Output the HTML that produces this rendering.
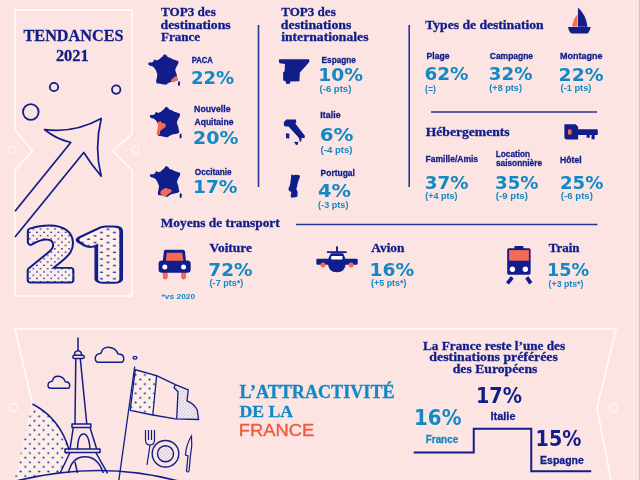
<!DOCTYPE html>
<html><head><meta charset="utf-8"><style>
html,body{margin:0;padding:0;background:#fce4e3;}
svg{display:block}
</style></head><body>
<svg width="640" height="480" viewBox="0 0 640 480">
<rect width="640" height="480" fill="#fce4e3"/>
<defs>
<pattern id="dots" patternUnits="userSpaceOnUse" width="9.2" height="9.2" x="0" y="0">
<rect width="9.2" height="9.2" fill="#fdeeea"/>
<circle cx="2.3" cy="2.3" r="1.0" fill="#101d8a"/><circle cx="6.9" cy="6.9" r="1.0" fill="#101d8a"/>
</pattern>
<pattern id="dots21" patternUnits="userSpaceOnUse" width="6.6" height="6.6" x="0" y="0">
<rect width="6.6" height="6.6" fill="#fdeeea"/>
<circle cx="1.65" cy="1.65" r="0.8" fill="#101d8a"/><circle cx="4.95" cy="4.95" r="0.8" fill="#101d8a"/>
</pattern>
<pattern id="fdots" patternUnits="userSpaceOnUse" width="3.2" height="3.2">
<rect width="3.2" height="3.2" fill="#fcefef"/>
<circle cx="0.8" cy="0.8" r="0.42" fill="#3a46a0"/><circle cx="2.4" cy="2.4" r="0.42" fill="#3a46a0"/>
</pattern>
</defs>
<rect x="633.5" y="0" width="1" height="480" fill="#fff4ec"/>
<rect x="639" y="0" width="1" height="480" fill="#f6b8ad"/>
<path d="M15,10 H132 V134 L113,151 L132,170 V296 H15 V170 L32.5,151 L15,130 Z" fill="none" stroke="#fff8f5" stroke-width="1.9"/>
<circle cx="12.5" cy="150" r="3.6" fill="none" stroke="#fff8f5" stroke-width="1.1"/>
<circle cx="135.3" cy="150" r="3.6" fill="none" stroke="#fff8f5" stroke-width="1.1"/>
<path d="M17.5,480 L32.4,404 L15,329 H616 L597,408 L611,480" fill="none" stroke="#fff8f5" stroke-width="1.9"/>
<circle cx="13" cy="407.5" r="4" fill="none" stroke="#fff8f5" stroke-width="1.1"/>
<circle cx="613" cy="408" r="4" fill="none" stroke="#fff8f5" stroke-width="1.1"/>
<line x1="258.5" y1="25" x2="258.5" y2="187" stroke="#2a3598" stroke-width="1.6"/>
<line x1="409.2" y1="25" x2="409.2" y2="187" stroke="#2a3598" stroke-width="1.6"/>
<line x1="431" y1="112" x2="597" y2="112" stroke="#2a3598" stroke-width="1.6"/>
<line x1="296" y1="224.5" x2="597.5" y2="224.5" stroke="#2a3598" stroke-width="1.6"/>
<circle cx="54" cy="87" r="4.2" fill="none" stroke="#101d8a" stroke-width="1.8"/>
<circle cx="116.2" cy="89.6" r="4.2" fill="none" stroke="#101d8a" stroke-width="1.8"/>
<circle cx="30.8" cy="112" r="7.8" fill="none" stroke="#101d8a" stroke-width="1.8"/>
<path d="M15,211.25 L70.75,142.5 Q56,139 44.5,129.5 Q74,133.5 101.25,118.5 Q94,148 101.25,176.25 Q91,164 83.75,152.5 L15,237" fill="none" stroke="#101d8a" stroke-width="1.7" stroke-linejoin="round"/>
<g transform="translate(144,50) scale(0.08333333333333333)">
<polygon points="245,50 270,62 285,85 320,95 345,110 375,120 415,135 410,165 390,200 375,235 380,260 390,285 395,310 400,340 405,360 385,372 360,378 330,382 300,392 280,405 265,418 235,415 195,405 150,398 145,370 155,330 160,290 145,250 125,215 100,195 65,185 50,170 55,150 90,150 110,140 125,110 150,125 180,115 200,95 220,80 235,60" fill="#101d8a"/>
<polygon points="330,355 350,335 375,315 395,318 400,340 405,360 385,372 360,378 330,382 322,370" fill="#f76a52"/>
<ellipse cx="420" cy="403" rx="13" ry="30" fill="#101d8a"/>
</g>
<g transform="translate(145.6,102.5) scale(0.08333333333333333)">
<polygon points="245,50 270,62 285,85 320,95 345,110 375,120 415,135 410,165 390,200 375,235 380,260 390,285 395,310 400,340 405,360 385,372 360,378 330,382 300,392 280,405 265,418 235,415 195,405 150,398 145,370 155,330 160,290 145,250 125,215 100,195 65,185 50,170 55,150 90,150 110,140 125,110 150,125 180,115 200,95 220,80 235,60" fill="#101d8a"/>
<polygon points="155.8,231 180.8,221 195.8,246 230.8,251 245.8,271 235.8,296 210.8,316 180.8,336 170.8,356 175.8,384 140.8,391 130.8,376 140.8,326 150.8,276 140.8,246" fill="#f76a52"/>
<ellipse cx="420" cy="403" rx="13" ry="30" fill="#101d8a"/>
</g>
<g transform="translate(145.7,161.8) scale(0.08333333333333333)">
<polygon points="245,50 270,62 285,85 320,95 345,110 375,120 415,135 410,165 390,200 375,235 380,260 390,285 395,310 400,340 405,360 385,372 360,378 330,382 300,392 280,405 265,418 235,415 195,405 150,398 145,370 155,330 160,290 145,250 125,215 100,195 65,185 50,170 55,150 90,150 110,140 125,110 150,125 180,115 200,95 220,80 235,60" fill="#101d8a"/>
<polygon points="174.6,365.4 189.6,340.4 219.6,322.4 244.6,310.4 269.6,325.4 299.6,330.4 314.6,352.4 289.6,375.4 264.6,388.4 249.6,410.4 219.6,412.4 184.6,400.4" fill="#f76a52"/>
<ellipse cx="420" cy="403" rx="13" ry="30" fill="#101d8a"/>
</g>
<polygon points="278.96,59.31 309.04,59.31 309.40,61.79 305.15,66.74 300.90,71.35 299.84,72.41 299.49,81.26 290.28,81.61 289.93,83.73 286.39,84.09 285.68,81.61 283.20,80.19 283.06,72.41 284.62,71.35 284.97,63.91 279.66,63.20 278.96,61.79" fill="#101d8a"/>
<polygon points="283.86,122.26 286.26,119.41 295.87,119.41 296.39,122.26 295.27,123.61 305.03,135.92 304.28,138.17 301.65,137.87 301.27,141.18 299.62,141.63 299.17,138.62 298.12,137.12 288.51,126.39 285.66,126.61 283.86,125.41" fill="#101d8a"/>
<polygon points="285.88,133.37 289.41,133.67 289.26,138.40 286.11,138.17" fill="#101d8a"/>
<polygon points="293.92,141.78 298.42,141.93 297.37,145.16 295.87,144.63" fill="#101d8a"/>
<polygon points="291.33,174.33 293.33,175.33 295.33,174.67 299.33,175.00 300.00,176.67 299.00,179.33 297.67,183.33 297.00,186.67 296.33,189.00 297.67,192.00 297.33,196.67 295.33,197.33 291.33,197.67 290.67,196.00 291.33,192.00 289.00,190.67 288.33,188.67 289.67,186.00 290.33,182.67 291.00,178.00" fill="#101d8a"/>
<g transform="translate(562,4) scale(0.0708215297450425)">
<path d="M225,50 Q340,150 360,322 L225,322 Z" fill="#101d8a"/>
<path d="M218,145 Q160,215 142,318 L218,318 Z" fill="#f76a52"/>
<path d="M85,325 L405,325 Q395,380 370,410 Q360,418 340,418 L150,418 Q125,418 110,395 Q92,365 85,325 Z" fill="#101d8a"/>
</g>
<g transform="translate(560,118) scale(0.0625)">
<path d="M70,100 L250,100 L290,140 L290,180 L590,180 Q605,180 605,200 L605,255 Q605,270 590,270 L555,270 L555,340 L505,340 L505,270 L475,270 L475,315 L425,315 L425,270 L290,270 L290,345 L110,345 Q70,345 70,305 Z" fill="#101d8a"/>
<rect x="128" y="185" width="57" height="80" fill="#f76a52"/>
</g>
<g transform="translate(154,244) scale(0.08333333333333333)">
<rect x="105" y="330" width="60" height="95" rx="28" fill="#f76a52"/>
<rect x="325" y="330" width="60" height="95" rx="28" fill="#f76a52"/>
<path d="M140,68 L350,68 Q370,68 372,90 L385,215 L105,215 L118,90 Q120,68 140,68 Z" fill="#101d8a"/>
<rect x="55" y="198" width="385" height="148" rx="40" fill="#101d8a"/>
<path d="M152,105 L338,105 L352,200 L143,200 Z" fill="#f76a52"/>
<circle cx="130" cy="275" r="30" fill="#fff"/><circle cx="355" cy="275" r="30" fill="#fff"/>
</g>
<g transform="translate(312,242) scale(0.078125)">
<rect x="308" y="55" width="24" height="80" fill="#101d8a"/>
<rect x="190" y="118" width="255" height="24" rx="6" fill="#101d8a"/>
<rect x="55" y="215" width="530" height="75" rx="14" fill="#101d8a"/>
<path d="M245,145 L395,145 Q430,190 432,265 Q430,385 318,388 Q205,385 204,265 Q206,190 245,145 Z" fill="#101d8a"/>
<rect x="245" y="180" width="145" height="45" rx="6" fill="#fff"/>
<circle cx="140" cy="295" r="32" fill="#f76a52"/><circle cx="500" cy="295" r="32" fill="#f76a52"/>
</g>
<g transform="translate(500,242) scale(0.09569377990430622)">
<rect x="150" y="42" width="95" height="40" rx="8" fill="#101d8a"/>
<rect x="75" y="65" width="245" height="277" rx="18" fill="#101d8a"/>
<rect x="95" y="85" width="207" height="110" fill="#f76a52"/>
<circle cx="130" cy="285" r="28" fill="#fff"/><circle cx="265" cy="285" r="28" fill="#fff"/>
<line x1="128" y1="370" x2="78" y2="432" stroke="#101d8a" stroke-width="40"/>
<line x1="280" y1="370" x2="322" y2="432" stroke="#101d8a" stroke-width="40"/>
</g>
<path d="M413.75,452.5 H473.75 V428.75 H531.25 V471.25 H591.2" fill="none" stroke="#101d8a" stroke-width="2"/>
<text transform="translate(24.42,280.10) scale(1.085,1)" font-family="'DejaVu Sans', sans-serif" font-weight="bold" font-size="69.80" fill="none" stroke="#101d8a" stroke-width="7.00" stroke-linejoin="round">2</text><text transform="translate(24.42,280.10) scale(1.085,1)" font-family="'DejaVu Sans', sans-serif" font-weight="bold" font-size="69.80" fill="url(#dots21)" stroke="url(#dots21)" stroke-width="3.20" stroke-linejoin="round">2</text>
<text transform="translate(65.88,280.40) scale(1.962,1)" font-family="NanumGothic, 'Liberation Sans', sans-serif" font-weight="bold" font-size="66.97" fill="none" stroke="#101d8a" stroke-width="7.40" stroke-linejoin="round">1</text><text transform="translate(65.88,280.40) scale(1.962,1)" font-family="NanumGothic, 'Liberation Sans', sans-serif" font-weight="bold" font-size="66.97" fill="url(#dots21)" stroke="url(#dots21)" stroke-width="3.60" stroke-linejoin="round">1</text>
<clipPath id="above"><path d="M0,300 H220 V481 L178,481 Q100,460 18,481 L0,481 Z"/></clipPath>
<path d="M32.4,404 Q60,418 69.2,450.3 L60,476 L14,481 Z" fill="url(#dots)" clip-path="url(#above)"/>
<path d="M32.4,404 Q60,418 69.2,450.3" fill="none" stroke="#101d8a" stroke-width="1.5"/>
<path d="M16,481 Q100,460 178,481" fill="none" stroke="#101d8a" stroke-width="1.7"/>
<path d="M78,337.5 V351 M74.6,355 A3.5,3.5 0 1 1 81.4,355 M74.5,355.2 H82.5 A1.7,1.7 0 0 1 82.5,358.6 H74.5 A1.7,1.7 0 0 1 74.5,355.2 Z M75.8,358.7 L75,424 M80.3,358.7 L86.8,424 M72,424 H90.8 V427.5 H72 Z M73.3,427.5 L70,449 M90,427.5 L96.7,449 M77.5,449 Q78,434 83.5,434 Q89,434 90,449 M65,449 H100 V452.5 H65 Z M70,452.5 L60,473.3 M95.8,452.5 L107.5,473.3 M68.3,473 Q72,456.7 85,456.7 Q98,456.7 103.3,473 M75,462 L77.5,473" fill="none" stroke="#101d8a" stroke-width="1.5" stroke-linejoin="round"/>
<path d="M50.60,388.30 H67.96 Q69.70,388.30 69.70,385.30 Q69.70,381.70 65.36,381.70 Q63.19,376.30 57.77,376.30 Q53.42,376.30 52.34,381.10 Q48.00,381.70 48.00,385.30 Q48.00,388.30 50.60,388.30 Z" fill="none" stroke="#101d8a" stroke-width="1.4"/>
<path d="M98.67,362.30 H121.47 Q123.75,362.30 123.75,358.55 Q123.75,354.05 118.05,354.05 Q115.20,347.30 108.08,347.30 Q102.38,347.30 100.95,353.30 Q95.25,354.05 95.25,358.55 Q95.25,362.30 98.67,362.30 Z" fill="none" stroke="#101d8a" stroke-width="1.4"/>
<ellipse cx="135" cy="357.8" rx="2" ry="1.4" fill="none" stroke="#101d8a" stroke-width="1.2"/>
<path d="M135.3,369.75 L156.6,375.6 L152.8,415 L130.2,410.4 Z" fill="url(#dots)"/>
<path d="M175.4,384.6 L188.3,389.8 L187,400.8 Q196,405 197.4,411 L198.6,419.5 L176.7,418.8 L178,391.7 L174.1,387.8 Z" fill="url(#fdots)"/>
<path d="M135.3,369.75 L156.6,375.6 L175.4,384.6 L188.3,389.8 L187,400.8 Q196,405 197.4,411 L198.6,419.5 L175.4,418.8 L152.8,415 L130.2,410.4 Z M156.6,375.6 L152.8,415 M175.4,384.6 L174.1,387.8 L178,391.7 L176.7,418.8" fill="none" stroke="#101d8a" stroke-width="1.3" stroke-linejoin="round"/>
<path d="M134.7,366.5 L118.75,481" fill="none" stroke="#101d8a" stroke-width="1.3"/>
<path d="M145.5,430 V440 Q145.5,445 150,445 Q154.5,445 154.5,440 V430 M148.5,430 V440 M151.5,430 V440 M150,445 L147,465" fill="none" stroke="#101d8a" stroke-width="1.2"/>
<circle cx="165.5" cy="453.75" r="13.3" fill="none" stroke="#101d8a" stroke-width="1.4"/>
<circle cx="165.5" cy="453.75" r="8" fill="url(#fdots)" stroke="#101d8a" stroke-width="1.4"/>
<path d="M191.5,436 Q186,445 185.5,455 L188,456 L186.5,471 Q187.5,473 189,471 L190.5,455 Q192.5,446 191.5,436 Z" fill="none" stroke="#101d8a" stroke-width="1.2"/>
<text transform="translate(23.51,41.00) scale(0.983,1)" font-size="16.50" font-weight="bold" font-family='"Liberation Serif", serif' fill="#101d8a" stroke="#101d8a" stroke-width="0.300">TENDANCES</text>
<text transform="translate(55.89,60.50) scale(1.024,1)" font-size="16.00" font-weight="bold" font-family='"Liberation Serif", serif' fill="#101d8a" stroke="#101d8a" stroke-width="0.300">2021</text>
<text transform="translate(160.95,16.25) scale(1.042,1)" font-size="12.60" font-weight="bold" font-family='"Liberation Serif", serif' fill="#101d8a" stroke="#101d8a" stroke-width="0.300">TOP3 des</text>
<text transform="translate(160.60,28.60) scale(1.090,1)" font-size="12.60" font-weight="bold" font-family='"Liberation Serif", serif' fill="#101d8a" stroke="#101d8a" stroke-width="0.300">destinations</text>
<text transform="translate(160.95,41.25) scale(1.038,1)" font-size="12.60" font-weight="bold" font-family='"Liberation Serif", serif' fill="#101d8a" stroke="#101d8a" stroke-width="0.300">France</text>
<text transform="translate(281.20,16.10) scale(1.037,1)" font-size="12.60" font-weight="bold" font-family='"Liberation Serif", serif' fill="#101d8a" stroke="#101d8a" stroke-width="0.300">TOP3 des</text>
<text transform="translate(280.85,28.90) scale(1.096,1)" font-size="12.60" font-weight="bold" font-family='"Liberation Serif", serif' fill="#101d8a" stroke="#101d8a" stroke-width="0.300">destinations</text>
<text transform="translate(281.13,41.40) scale(1.086,1)" font-size="12.60" font-weight="bold" font-family='"Liberation Serif", serif' fill="#101d8a" stroke="#101d8a" stroke-width="0.300">internationales</text>
<text transform="translate(425.20,29.40) scale(1.081,1)" font-size="12.60" font-weight="bold" font-family='"Liberation Serif", serif' fill="#101d8a" stroke="#101d8a" stroke-width="0.300">Types de destination</text>
<text transform="translate(425.70,135.75) scale(1.081,1)" font-size="12.60" font-weight="bold" font-family='"Liberation Serif", serif' fill="#101d8a" stroke="#101d8a" stroke-width="0.300">Hébergements</text>
<text transform="translate(160.70,227.00) scale(1.064,1)" font-size="12.60" font-weight="bold" font-family='"Liberation Serif", serif' fill="#101d8a" stroke="#101d8a" stroke-width="0.300">Moyens de transport</text>
<text transform="translate(209.52,252.00) scale(1.089,1)" font-size="12.30" font-weight="bold" font-family='"Liberation Serif", serif' fill="#101d8a" stroke="#101d8a" stroke-width="0.300">Voiture</text>
<text transform="translate(371.33,252.00) scale(1.086,1)" font-size="12.30" font-weight="bold" font-family='"Liberation Serif", serif' fill="#101d8a" stroke="#101d8a" stroke-width="0.300">Avion</text>
<text transform="translate(548.71,252.00) scale(1.056,1)" font-size="12.30" font-weight="bold" font-family='"Liberation Serif", serif' fill="#101d8a" stroke="#101d8a" stroke-width="0.300">Train</text>
<text transform="translate(239.48,398.20) scale(1.019,1)" font-size="17.80" font-weight="bold" font-family='"Liberation Serif", serif' fill="#1288c4" stroke="#1288c4" stroke-width="0.300">L’ATTRACTIVITÉ</text>
<text transform="translate(239.49,416.70) scale(1.027,1)" font-size="17.20" font-weight="bold" font-family='"Liberation Serif", serif' fill="#1288c4" stroke="#1288c4" stroke-width="0.300">DE LA</text>
<text transform="translate(423.05,349.50) scale(1.032,1)" font-size="12.80" font-weight="bold" font-family='"Liberation Serif", serif' fill="#101d8a" stroke="#101d8a" stroke-width="0.300">La France reste l’une des</text>
<text transform="translate(429.35,361.00) scale(1.080,1)" font-size="12.80" font-weight="bold" font-family='"Liberation Serif", serif' fill="#101d8a" stroke="#101d8a" stroke-width="0.300">destinations préférées</text>
<text transform="translate(452.70,372.90) scale(1.072,1)" font-size="12.80" font-weight="bold" font-family='"Liberation Serif", serif' fill="#101d8a" stroke="#101d8a" stroke-width="0.300">des Européens</text>
<text transform="translate(238.71,436.00) scale(1.080,1)" font-size="17.00" font-weight="normal" font-family='"Liberation Sans", sans-serif' fill="#f05a3e" stroke="#f05a3e" stroke-width="0.350">FRANCE</text>
<text transform="translate(191.65,63.00) scale(0.829,1)" font-size="9.30" font-weight="bold" font-family='"Liberation Sans", sans-serif' fill="#101d8a" stroke="#101d8a" stroke-width="0.300">PACA</text>
<text transform="translate(194.08,112.20) scale(0.943,1)" font-size="9.30" font-weight="bold" font-family='"Liberation Sans", sans-serif' fill="#101d8a" stroke="#101d8a" stroke-width="0.300">Nouvelle</text>
<text transform="translate(194.48,124.50) scale(0.921,1)" font-size="9.30" font-weight="bold" font-family='"Liberation Sans", sans-serif' fill="#101d8a" stroke="#101d8a" stroke-width="0.300">Aquitaine</text>
<text transform="translate(194.82,174.70) scale(0.881,1)" font-size="9.30" font-weight="bold" font-family='"Liberation Sans", sans-serif' fill="#101d8a" stroke="#101d8a" stroke-width="0.300">Occitanie</text>
<text transform="translate(321.62,62.70) scale(0.885,1)" font-size="9.30" font-weight="bold" font-family='"Liberation Sans", sans-serif' fill="#101d8a" stroke="#101d8a" stroke-width="0.300">Espagne</text>
<text transform="translate(320.37,118.40) scale(0.956,1)" font-size="9.30" font-weight="bold" font-family='"Liberation Sans", sans-serif' fill="#101d8a" stroke="#101d8a" stroke-width="0.300">Italie</text>
<text transform="translate(320.60,176.00) scale(0.910,1)" font-size="9.30" font-weight="bold" font-family='"Liberation Sans", sans-serif' fill="#101d8a" stroke="#101d8a" stroke-width="0.300">Portugal</text>
<text transform="translate(426.59,59.20) scale(0.928,1)" font-size="9.30" font-weight="bold" font-family='"Liberation Sans", sans-serif' fill="#101d8a" stroke="#101d8a" stroke-width="0.300">Plage</text>
<text transform="translate(489.81,59.20) scale(0.911,1)" font-size="9.30" font-weight="bold" font-family='"Liberation Sans", sans-serif' fill="#101d8a" stroke="#101d8a" stroke-width="0.300">Campagne</text>
<text transform="translate(560.06,59.20) scale(0.969,1)" font-size="9.30" font-weight="bold" font-family='"Liberation Sans", sans-serif' fill="#101d8a" stroke="#101d8a" stroke-width="0.300">Montagne</text>
<text transform="translate(425.60,162.25) scale(0.916,1)" font-size="9.30" font-weight="bold" font-family='"Liberation Sans", sans-serif' fill="#101d8a" stroke="#101d8a" stroke-width="0.300">Famille/Amis</text>
<text transform="translate(495.71,156.50) scale(0.889,1)" font-size="9.30" font-weight="bold" font-family='"Liberation Sans", sans-serif' fill="#101d8a" stroke="#101d8a" stroke-width="0.300">Location</text>
<text transform="translate(495.96,166.15) scale(0.893,1)" font-size="9.30" font-weight="bold" font-family='"Liberation Sans", sans-serif' fill="#101d8a" stroke="#101d8a" stroke-width="0.300">saisonnière</text>
<text transform="translate(560.09,162.50) scale(0.929,1)" font-size="9.30" font-weight="bold" font-family='"Liberation Sans", sans-serif' fill="#101d8a" stroke="#101d8a" stroke-width="0.300">Hôtel</text>
<text transform="translate(490.54,419.80) scale(1.033,1)" font-size="10.60" font-weight="bold" font-family='"Liberation Sans", sans-serif' fill="#101d8a" stroke="#101d8a" stroke-width="0.300">Italie</text>
<text transform="translate(540.07,464.40) scale(0.992,1)" font-size="10.60" font-weight="bold" font-family='"Liberation Sans", sans-serif' fill="#101d8a" stroke="#101d8a" stroke-width="0.300">Espagne</text>
<text transform="translate(425.76,443.00) scale(0.932,1)" font-size="10.60" font-weight="bold" font-family='"Liberation Sans", sans-serif' fill="#1288c4" stroke="#1288c4" stroke-width="0.300">France</text>
<text transform="translate(161.50,299.40) scale(1.111,1)" font-size="7.60" font-weight="bold" font-family='"Liberation Sans", sans-serif' fill="#1288c4">*vs 2020</text>
<text transform="translate(190.95,83.60) scale(1.075,1)" font-size="16.80" font-weight="bold" font-family='"DejaVu Sans", sans-serif' fill="#1288c4">22%</text>
<text transform="translate(193.08,144.00) scale(1.130,1)" font-size="16.80" font-weight="bold" font-family='"DejaVu Sans", sans-serif' fill="#1288c4">20%</text>
<text transform="translate(192.95,193.00) scale(1.108,1)" font-size="16.80" font-weight="bold" font-family='"DejaVu Sans", sans-serif' fill="#1288c4">17%</text>
<text transform="translate(318.14,81.25) scale(1.113,1)" font-size="16.80" font-weight="bold" font-family='"DejaVu Sans", sans-serif' fill="#1288c4">10%</text>
<text transform="translate(319.81,140.50) scale(1.182,1)" font-size="16.80" font-weight="bold" font-family='"DejaVu Sans", sans-serif' fill="#1288c4">6%</text>
<text transform="translate(317.97,196.50) scale(1.159,1)" font-size="16.80" font-weight="bold" font-family='"DejaVu Sans", sans-serif' fill="#1288c4">4%</text>
<text transform="translate(424.39,79.50) scale(1.097,1)" font-size="16.80" font-weight="bold" font-family='"DejaVu Sans", sans-serif' fill="#1288c4">62%</text>
<text transform="translate(488.81,80.20) scale(1.086,1)" font-size="16.80" font-weight="bold" font-family='"DejaVu Sans", sans-serif' fill="#1288c4">32%</text>
<text transform="translate(558.59,80.50) scale(1.117,1)" font-size="16.80" font-weight="bold" font-family='"DejaVu Sans", sans-serif' fill="#1288c4">22%</text>
<text transform="translate(424.81,189.00) scale(1.086,1)" font-size="16.80" font-weight="bold" font-family='"DejaVu Sans", sans-serif' fill="#1288c4">37%</text>
<text transform="translate(495.07,189.00) scale(1.080,1)" font-size="16.80" font-weight="bold" font-family='"DejaVu Sans", sans-serif' fill="#1288c4">35%</text>
<text transform="translate(559.88,189.00) scale(1.084,1)" font-size="16.80" font-weight="bold" font-family='"DejaVu Sans", sans-serif' fill="#1288c4">25%</text>
<text transform="translate(208.30,275.50) scale(1.099,1)" font-size="16.80" font-weight="bold" font-family='"DejaVu Sans", sans-serif' fill="#1288c4">72%</text>
<text transform="translate(369.44,275.50) scale(1.114,1)" font-size="16.80" font-weight="bold" font-family='"DejaVu Sans", sans-serif' fill="#1288c4">16%</text>
<text transform="translate(547.06,276.00) scale(1.049,1)" font-size="16.80" font-weight="bold" font-family='"DejaVu Sans", sans-serif' fill="#1288c4">15%</text>
<text transform="translate(475.88,402.50) scale(0.927,1)" font-size="20.80" font-weight="bold" font-family='"DejaVu Sans", sans-serif' fill="#101d8a">17%</text>
<text transform="translate(414.07,425.30) scale(0.953,1)" font-size="20.80" font-weight="bold" font-family='"DejaVu Sans", sans-serif' fill="#1288c4">16%</text>
<text transform="translate(535.59,446.30) scale(0.920,1)" font-size="20.80" font-weight="bold" font-family='"DejaVu Sans", sans-serif' fill="#101d8a">15%</text>
<text transform="translate(319.57,92.30) scale(1.060,1)" font-size="9.00" font-weight="bold" font-family='"Liberation Sans", sans-serif' fill="#1288c4">(-6 pts)</text>
<text transform="translate(320.57,153.00) scale(1.063,1)" font-size="9.00" font-weight="bold" font-family='"Liberation Sans", sans-serif' fill="#1288c4">(-4 pts)</text>
<text transform="translate(318.09,208.00) scale(1.012,1)" font-size="9.00" font-weight="bold" font-family='"Liberation Sans", sans-serif' fill="#1288c4">(-3 pts)</text>
<text transform="translate(425.11,91.70) scale(0.970,1)" font-size="9.00" font-weight="bold" font-family='"Liberation Sans", sans-serif' fill="#1288c4">(=)</text>
<text transform="translate(489.29,90.80) scale(1.012,1)" font-size="9.00" font-weight="bold" font-family='"Liberation Sans", sans-serif' fill="#1288c4">(+8 pts)</text>
<text transform="translate(560.58,91.30) scale(1.029,1)" font-size="9.00" font-weight="bold" font-family='"Liberation Sans", sans-serif' fill="#1288c4">(-1 pts)</text>
<text transform="translate(425.35,199.00) scale(0.995,1)" font-size="9.00" font-weight="bold" font-family='"Liberation Sans", sans-serif' fill="#1288c4">(+4 pts)</text>
<text transform="translate(495.82,199.00) scale(1.072,1)" font-size="9.00" font-weight="bold" font-family='"Liberation Sans", sans-serif' fill="#1288c4">(-9 pts)</text>
<text transform="translate(560.82,199.00) scale(1.072,1)" font-size="9.00" font-weight="bold" font-family='"Liberation Sans", sans-serif' fill="#1288c4">(-6 pts)</text>
<text transform="translate(209.59,286.00) scale(1.010,1)" font-size="9.00" font-weight="bold" font-family='"Liberation Sans", sans-serif' fill="#1288c4">(-7 pts*)</text>
<text transform="translate(371.10,286.00) scale(0.988,1)" font-size="9.00" font-weight="bold" font-family='"Liberation Sans", sans-serif' fill="#1288c4">(+5 pts*)</text>
<text transform="translate(548.61,286.50) scale(0.974,1)" font-size="9.00" font-weight="bold" font-family='"Liberation Sans", sans-serif' fill="#1288c4">(+3 pts*)</text>
</svg>
</body></html>
